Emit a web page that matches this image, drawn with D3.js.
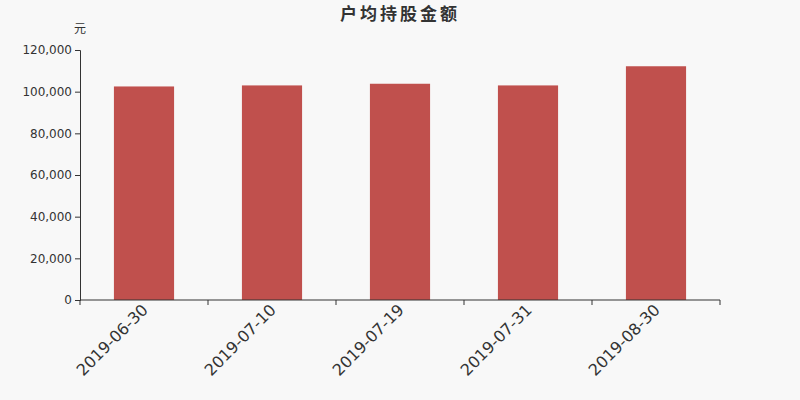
<!DOCTYPE html>
<html>
<head>
<meta charset="utf-8">
<script src="https://cdn.jsdelivr.net/npm/d3@7"></script>
<style>
  body { margin: 0; background: #f8f8f8; }
  svg { font-family: "DejaVu Sans", "Noto Sans CJK SC", sans-serif; }
</style>
</head>
<body>
<svg id="chart" width="800" height="400"></svg>
<script>
var dates = ['2019-06-30', '2019-07-10', '2019-07-19', '2019-07-31', '2019-08-30'];
var values = [102500, 103000, 103800, 103000, 112200];
var yTicks = [0, 20000, 40000, 60000, 80000, 100000, 120000];

var svg = d3.select('#chart');
var plotLeft = 80, plotRight = 720, plotTop = 50, plotBottom = 300;

svg.append('rect')
  .attr('width', 800).attr('height', 400)
  .attr('fill', '#f8f8f8');

var x = d3.scaleBand().domain(dates).range([plotLeft, plotRight]).paddingInner(0.53).paddingOuter(0.265);
var y = d3.scaleLinear().domain([0, 120000]).range([plotBottom, plotTop]);

// title
svg.append('text')
  .attr('x', 400).attr('y', 20)
  .attr('text-anchor', 'middle')
  .style('font-size', '17px')
  .style('font-weight', 'bold')
  .style('letter-spacing', '3px')
  .style('fill', '#333')
  .style('font-family', '"Noto Sans CJK SC", sans-serif')
  .text('户均持股金额');

svg.append('text')
  .attr('x', 80).attr('y', 33)
  .attr('text-anchor', 'middle')
  .style('font-size', '12px')
  .style('fill', '#333')
  .style('font-family', '"Noto Sans CJK SC", sans-serif')
  .text('元');

// bars
svg.selectAll('rect.bar')
  .data(values)
  .enter().append('rect')
  .attr('class', 'bar')
  .attr('x', function (d, i) { return x(dates[i]); })
  .attr('width', x.bandwidth())
  .attr('y', function (d) { return y(d); })
  .attr('height', function (d) { return plotBottom - y(d); })
  .attr('fill', '#c0504d');

// y axis
var yAxis = svg.append('g')
  .attr('transform', 'translate(' + plotLeft + ',0)')
  .call(d3.axisLeft(y).tickValues(yTicks).tickSize(5).tickPadding(3).tickFormat(d3.format(',')));
yAxis.selectAll('path, line').attr('stroke', '#333');
yAxis.selectAll('text').style('font-size', '12px').style('fill', '#333').style('font-family', '"DejaVu Sans", sans-serif');

// x axis
var xAxis = svg.append('g')
  .attr('transform', 'translate(0,' + plotBottom + ')');
xAxis.append('line')
  .attr('x1', plotLeft).attr('x2', plotRight)
  .attr('stroke', '#333');
var edges = dates.map(function (d) { return x(d) - x.step() * x.paddingInner() / 2; }).concat([plotRight]);
xAxis.selectAll('line.tick')
  .data(edges)
  .enter().append('line')
  .attr('class', 'tick')
  .attr('x1', function (d) { return d; }).attr('x2', function (d) { return d; })
  .attr('y1', 0).attr('y2', 5)
  .attr('stroke', '#333');
xAxis.selectAll('text')
  .data(dates)
  .enter().append('text')
  .attr('text-anchor', 'end')
  .attr('transform', function (d) {
    return 'translate(' + (x(d) + x.bandwidth() / 2 + 1) + ',7) rotate(-45)';
  })
  .attr('dy', '0.35em')
  .style('font-size', '16px')
  .style('fill', '#333')
  .style('font-family', '"DejaVu Sans", sans-serif')
  .text(function (d) { return d; });
</script>
</body>
</html>
